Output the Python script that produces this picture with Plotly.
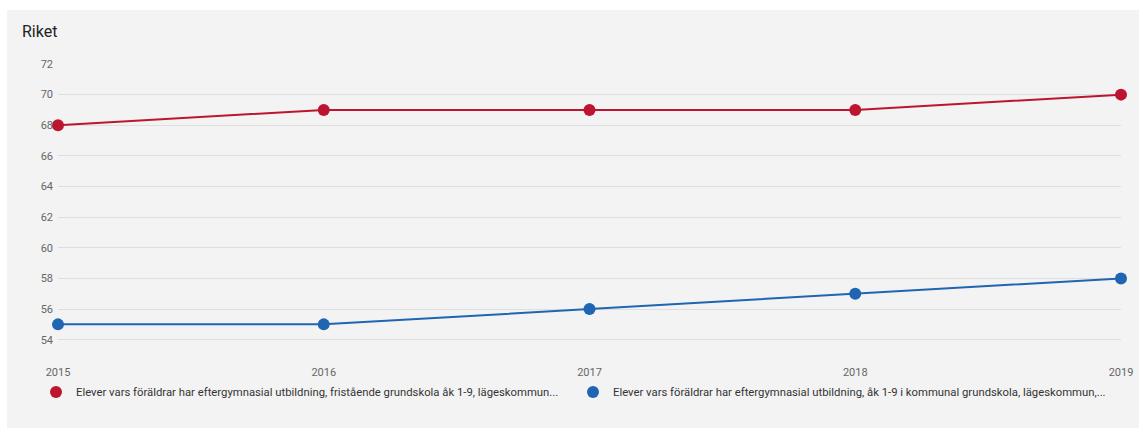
import plotly.graph_objects as go

years = [2015, 2016, 2017, 2018, 2019]
fristaende = [68, 69, 69, 69, 70]
kommunal = [55, 55, 56, 57, 58]
name_red = "Elever vars föräldrar har eftergymnasial utbildning, fristående grundskola åk 1-9, lägeskommun..."
name_blue = "Elever vars föräldrar har eftergymnasial utbildning, åk 1-9 i kommunal grundskola, lägeskommun,..."
y_ticks = [54, 56, 58, 60, 62, 64, 66, 68, 70, 72]

RED = "#bd1530"
BLUE = "#2065b2"

W, H = 1139, 428
L, R, T, B = 58, 18, 64, 73
pw, ph = W - L - R, H - T - B
bottom = T + ph

fig = go.Figure()
fig.add_trace(go.Scatter(x=years, y=fristaende, name=name_red, mode="lines+markers",
                         line=dict(color=RED, width=2), marker=dict(color=RED, size=12),
                         cliponaxis=False, showlegend=False))
fig.add_trace(go.Scatter(x=years, y=kommunal, name=name_blue, mode="lines+markers",
                         line=dict(color=BLUE, width=2), marker=dict(color=BLUE, size=12),
                         cliponaxis=False, showlegend=False))
# legend entries (marker-only symbols)
fig.add_trace(go.Scatter(x=[None], y=[None], name=name_red, mode="markers",
                         marker=dict(color=RED, size=12), legend="legend"))
fig.add_trace(go.Scatter(x=[None], y=[None], name=name_blue, mode="markers",
                         marker=dict(color=BLUE, size=12), legend="legend2"))

fig.add_shape(type="rect", xref="paper", yref="paper",
              x0=(7 - L) / pw, x1=(W - L) / pw,
              y0=(bottom - H) / ph, y1=(bottom - 10) / ph,
              fillcolor="#f3f3f3", line=dict(width=0), layer="below")

leg_common = dict(orientation="h", xanchor="left", y=(bottom - 392) / ph, yanchor="middle",
                  font=dict(size=11.3, color="#333"), bgcolor="rgba(0,0,0,0)")

fig.update_layout(
    width=W, height=H,
    margin=dict(l=L, r=R, t=T, b=B, autoexpand=False),
    paper_bgcolor="white",
    plot_bgcolor="rgba(0,0,0,0)",
    font=dict(family="Roboto", size=11, color="#555"),
    title=dict(text="Riket", font=dict(size=16, color="#222"),
               x=22 / W, xanchor="left", xref="container",
               y=1 - 31 / H, yanchor="middle", yref="container"),
    xaxis=dict(range=[2015, 2019], tickvals=years, showgrid=False, zeroline=False,
               showline=False, ticks="", automargin=False, ticklabelstandoff=9,
               tickfont=dict(size=11, color="#666")),
    yaxis=dict(range=[53, 72], tickvals=y_ticks, showgrid=True, gridcolor="#dedede",
               gridwidth=1, zeroline=False, showline=False, ticks="", automargin=False,
               ticklabelstandoff=4, tickfont=dict(size=11, color="#666")),
    showlegend=True,
    legend=dict(x=(36 - L) / pw, **leg_common),
    legend2=dict(x=(573 - L) / pw, **leg_common),
)

fig.write_html("out.html")
